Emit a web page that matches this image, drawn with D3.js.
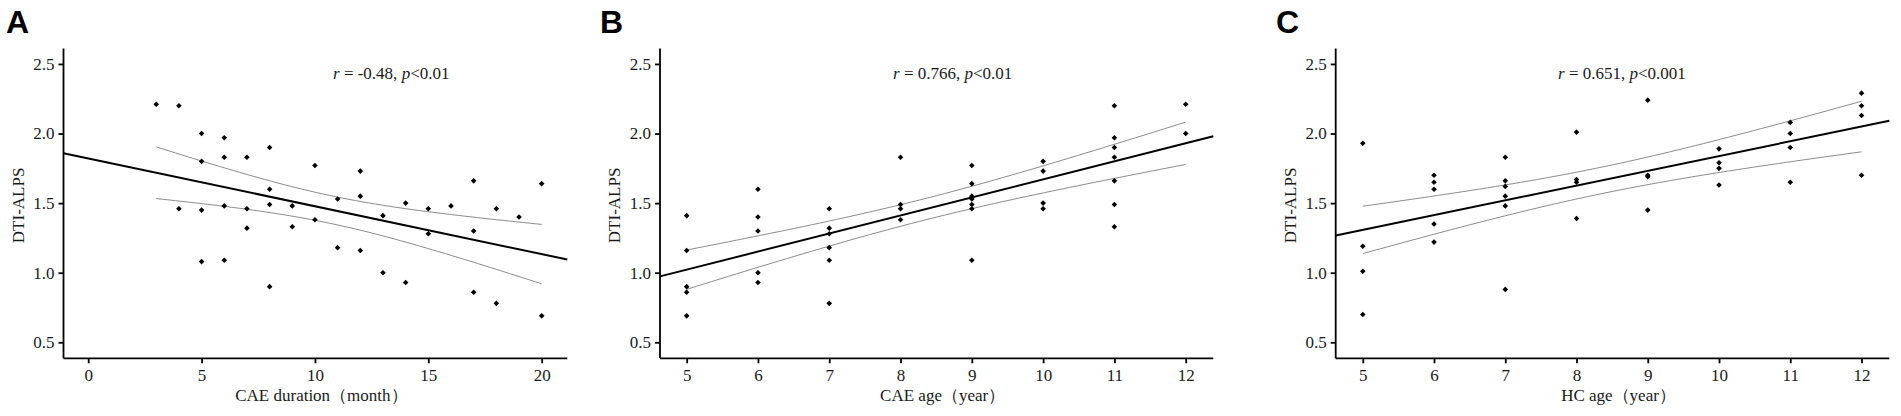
<!DOCTYPE html>
<html>
<head>
<meta charset="utf-8">
<script src="https://cdn.jsdelivr.net/npm/d3@7"></script>
<style>
  body { margin: 0; background: #fff; }
  svg { display: block; }
  .tick text { font-family: "Liberation Serif", "Times New Roman", serif; font-size: 17px; fill: #1a1a1a; }
</style>
</head>
<body>
<div id="chart"></div>
<script>
// Panel A: CAE duration (month) vs DTI-ALPS
const durationA = [3, 4, 4, 5, 5, 5, 5, 6, 6, 6, 6, 7, 7, 7, 8, 8, 8, 8, 9, 9, 10, 10,
  11, 11, 12, 12, 12, 13, 13, 14, 14, 15, 15, 16, 17, 17, 17, 18, 18, 19, 20, 20];
const alpsA = [2.21, 2.20, 1.46, 2.00, 1.80, 1.45, 1.08, 1.97, 1.83, 1.48, 1.09, 1.83, 1.46, 1.32,
  1.90, 1.60, 1.49, 0.90, 1.48, 1.33, 1.77, 1.38, 1.53, 1.18, 1.73, 1.55, 1.16, 1.41, 1.00,
  1.50, 0.93, 1.46, 1.28, 1.48, 1.66, 1.30, 0.86, 1.46, 0.78, 1.40, 1.64, 0.69];

// Panel B: CAE age (year) vs DTI-ALPS
const ageB = [5, 5, 5, 5, 5, 6, 6, 6, 6, 6, 7, 7, 7, 7, 7, 7, 8, 8, 8, 8,
  9, 9, 9, 9, 9, 9, 9, 10, 10, 10, 10, 11, 11, 11, 11, 11, 11, 11, 12, 12];
const alpsB = [1.41, 1.16, 0.90, 0.86, 0.69, 1.60, 1.40, 1.30, 1.00, 0.93, 1.46, 1.32, 1.28, 1.18, 1.09, 0.78,
  1.83, 1.49, 1.46, 1.38, 1.77, 1.64, 1.55, 1.53, 1.49, 1.46, 1.09, 1.80, 1.73, 1.50, 1.46,
  2.20, 1.97, 1.90, 1.83, 1.66, 1.49, 1.33, 2.21, 2.00];

// Panel C: HC age (year) vs DTI-ALPS
const ageC = [5, 5, 5, 5, 6, 6, 6, 6, 6, 7, 7, 7, 7, 7, 7, 8, 8, 8, 8,
  9, 9, 9, 9, 10, 10, 10, 10, 11, 11, 11, 11, 12, 12, 12, 12];
const alpsC = [1.93, 1.19, 1.01, 0.70, 1.70, 1.65, 1.60, 1.35, 1.22, 1.83, 1.66, 1.62, 1.55, 1.48, 0.88,
  2.01, 1.67, 1.65, 1.39, 2.24, 1.70, 1.69, 1.45, 1.89, 1.79, 1.75, 1.63,
  2.08, 2.00, 1.90, 1.65, 2.29, 2.20, 2.13, 1.70];

const yTicks = [0.5, 1.0, 1.5, 2.0, 2.5];
const xTicksA = [0, 5, 10, 15, 20];
const xTicksAge = [5, 6, 7, 8, 9, 10, 11, 12];

const panelLetters = ['A', 'B', 'C'];
const xLabels = ['CAE duration（month）', 'CAE age（year）', 'HC age（year）'];
const statTexts = [
  { r: '-0.48', p: '0.01' },
  { r: '0.766', p: '0.01' },
  { r: '0.651', p: '0.001' }
];

const W = 1901, H = 416;
const plotTop = 48.5, plotBottom = 358.3;
const serif = '"Liberation Serif", "Times New Roman", serif';

// layout of each panel (pixel extent of the axes, domain and annotation spot)
const panels = [
  { x: durationA, y: alpsA, ticks: xTicksA, left: 63.5, right: 567.3, domain: [-1.09, 21.13], letterX: 6, statX: 333 },
  { x: ageB, y: alpsB, ticks: xTicksAge, left: 660, right: 1213.3, domain: [4.626, 12.387], letterX: 600, statX: 893 },
  { x: ageC, y: alpsC, ticks: xTicksAge, left: 1335.7, right: 1889.3, domain: [4.62, 12.39], letterX: 1276, statX: 1558 }
];

const svg = d3.select('#chart').append('svg')
  .attr('width', W)
  .attr('height', H)
  .attr('viewBox', `0 0 ${W} ${H}`);

const yScale = d3.scaleLinear().domain([0.385, 2.611]).range([plotBottom, plotTop]);

// t quantile (two-sided 95%) by Cornish-Fisher expansion
function tCrit(df) {
  const z = 1.959964;
  return z + (z ** 3 + z) / (4 * df) + (5 * z ** 5 + 16 * z ** 3 + 3 * z) / (96 * df * df);
}

function fitLine(xs, ys) {
  const n = xs.length;
  const mx = d3.mean(xs), my = d3.mean(ys);
  let sxx = 0, sxy = 0;
  xs.forEach((x, i) => { sxx += (x - mx) ** 2; sxy += (x - mx) * (ys[i] - my); });
  const b = sxy / sxx, a = my - b * mx;
  let sse = 0;
  xs.forEach((x, i) => { sse += (ys[i] - a - b * x) ** 2; });
  const s = Math.sqrt(sse / (n - 2));
  const t = tCrit(n - 2);
  const half = (x) => t * s * Math.sqrt(1 / n + (x - mx) ** 2 / sxx);
  return { a, b, half };
}

panels.forEach((p, k) => {
  const g = svg.append('g');
  const xScale = d3.scaleLinear().domain(p.domain).range([p.left, p.right]);
  const fit = fitLine(p.x, p.y);

  // confidence band edges, only over the observed x range
  const [x0, x1] = d3.extent(p.x);
  const xs = d3.range(0, 61).map((i) => x0 + (x1 - x0) * i / 60);
  const line = d3.line().x((d) => xScale(d[0])).y((d) => yScale(d[1]));
  const upper = xs.map((x) => [x, fit.a + fit.b * x + fit.half(x)]);
  const lower = xs.map((x) => [x, fit.a + fit.b * x - fit.half(x)]);

  [upper, lower].forEach((band) => {
    g.append('path')
      .attr('d', line(band))
      .attr('fill', 'none')
      .attr('stroke', '#8c8c8c')
      .attr('stroke-width', 1);
  });

  // regression line across the whole axis
  g.append('path')
    .attr('d', line(p.domain.map((x) => [x, fit.a + fit.b * x])))
    .attr('fill', 'none')
    .attr('stroke', '#000')
    .attr('stroke-width', 2);

  // points
  const diamond = d3.symbol().type(d3.symbolDiamond2).size(20);
  g.selectAll('path.pt')
    .data(p.x.map((x, i) => [x, p.y[i]]))
    .enter()
    .append('path')
    .attr('class', 'pt')
    .attr('d', diamond)
    .attr('transform', (d) => `translate(${xScale(d[0])},${yScale(d[1])})`)
    .attr('fill', '#000');

  // axes
  const xAxis = g.append('g')
    .attr('transform', `translate(0,${plotBottom})`)
    .call(d3.axisBottom(xScale).tickValues(p.ticks).tickSize(5).tickPadding(4).tickFormat(d3.format('d')));
  const yAxis = g.append('g')
    .attr('transform', `translate(${p.left},0)`)
    .call(d3.axisLeft(yScale).tickValues(yTicks).tickSize(5).tickPadding(4).tickFormat(d3.format('.1f')));
  [xAxis, yAxis].forEach((ax) => {
    ax.select('.domain').attr('stroke', '#000').attr('stroke-width', 1.8);
    ax.selectAll('.tick line').attr('stroke', '#000').attr('stroke-width', 1.8);
  });
  xAxis.select('.domain').attr('d', `M${p.left},0H${p.right}`);
  yAxis.select('.domain').attr('d', `M0,${plotTop}V${plotBottom}`);
  xAxis.selectAll('.tick text').attr('dy', '0.82em');

  // axis titles
  g.append('text')
    .attr('x', (p.left + p.right) / 2 + 6)
    .attr('y', 401)
    .attr('text-anchor', 'middle')
    .style('font-family', serif)
    .style('font-size', '17px')
    .attr('fill', '#1a1a1a')
    .text(xLabels[k]);

  g.append('text')
    .attr('transform', `translate(${p.left - 40},${(plotTop + plotBottom) / 2 + 2}) rotate(-90)`)
    .attr('text-anchor', 'middle')
    .style('font-family', serif)
    .style('font-size', '17px')
    .attr('fill', '#1a1a1a')
    .text('DTI-ALPS');

  // correlation annotation
  const st = g.append('text')
    .attr('x', p.statX)
    .attr('y', 79)
    .style('font-family', serif)
    .style('font-size', '17px')
    .attr('fill', '#1a1a1a');
  st.append('tspan').style('font-style', 'italic').text('r');
  st.append('tspan').text(` = ${statTexts[k].r}, `);
  st.append('tspan').style('font-style', 'italic').text('p');
  st.append('tspan').text(`<${statTexts[k].p}`);

  // panel letter
  g.append('text')
    .attr('x', p.letterX)
    .attr('y', 33)
    .style('font-family', '"Liberation Sans", Arial, sans-serif')
    .style('font-weight', 'bold')
    .style('font-size', '32px')
    .attr('fill', '#000')
    .text(panelLetters[k]);
});
</script>
</body>
</html>
